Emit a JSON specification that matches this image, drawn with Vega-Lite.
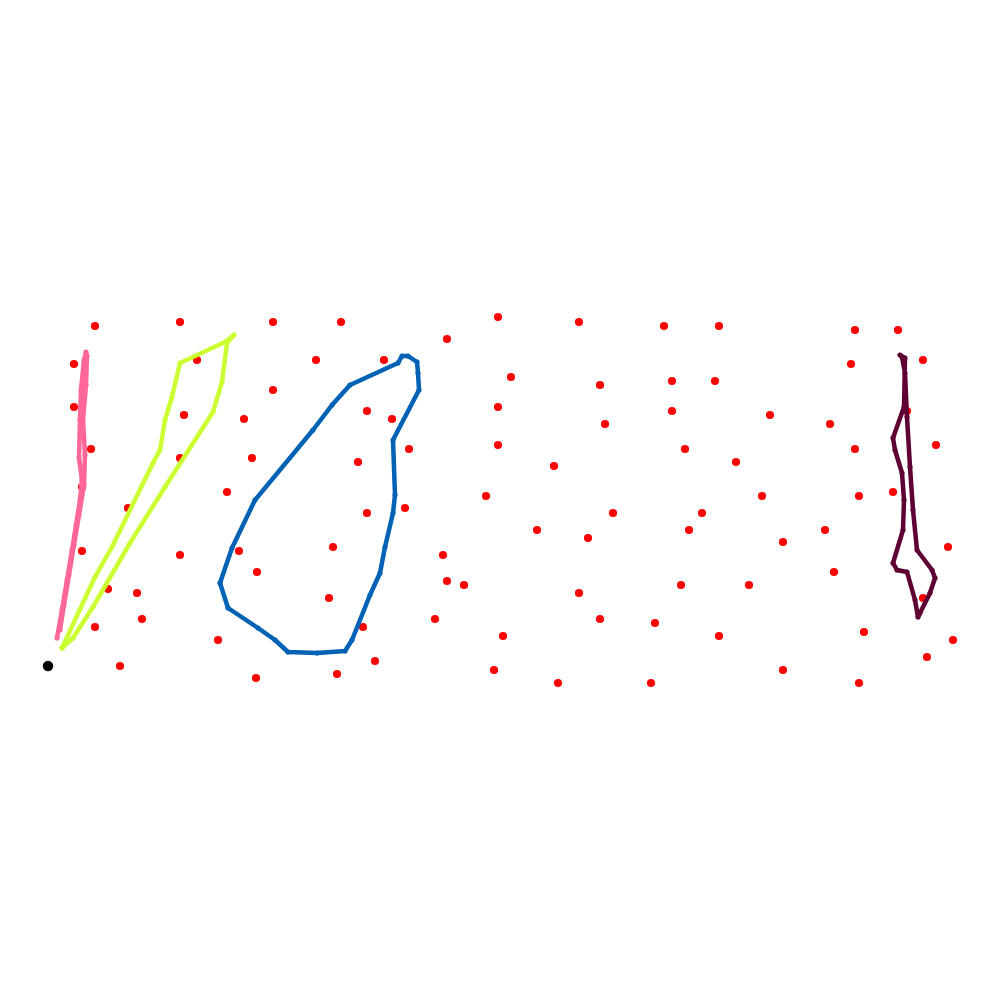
{
  "$schema": "https://vega.github.io/schema/vega-lite/v6.json",
  "width": 1000,
  "height": 1000,
  "padding": 0,
  "autosize": {"type": "fit", "contains": "padding"},
  "config": {"view": {"stroke": null}},
  "datasets": {
    "customers": [
      {"x": 95, "y": 326}, {"x": 180, "y": 322}, {"x": 273, "y": 322}, {"x": 341, "y": 322},
      {"x": 74, "y": 364}, {"x": 197, "y": 360}, {"x": 316, "y": 360}, {"x": 384, "y": 360},
      {"x": 74, "y": 407}, {"x": 184, "y": 415}, {"x": 273, "y": 390}, {"x": 244, "y": 419},
      {"x": 367, "y": 411}, {"x": 392, "y": 419}, {"x": 91, "y": 449}, {"x": 180, "y": 458},
      {"x": 252, "y": 458}, {"x": 358, "y": 462}, {"x": 409, "y": 449}, {"x": 82, "y": 487},
      {"x": 227, "y": 492}, {"x": 128, "y": 508}, {"x": 367, "y": 513}, {"x": 405, "y": 508},
      {"x": 82, "y": 551}, {"x": 180, "y": 555}, {"x": 239, "y": 551}, {"x": 333, "y": 547},
      {"x": 257, "y": 572}, {"x": 108, "y": 589}, {"x": 137, "y": 593}, {"x": 329, "y": 598},
      {"x": 95, "y": 627}, {"x": 142, "y": 619}, {"x": 218, "y": 640}, {"x": 363, "y": 627},
      {"x": 120, "y": 666}, {"x": 256, "y": 678}, {"x": 337, "y": 674}, {"x": 375, "y": 661},
      {"x": 498, "y": 317}, {"x": 579, "y": 322}, {"x": 664, "y": 326}, {"x": 719, "y": 326},
      {"x": 447, "y": 339}, {"x": 511, "y": 377}, {"x": 600, "y": 385}, {"x": 672, "y": 381},
      {"x": 715, "y": 381}, {"x": 498, "y": 407}, {"x": 672, "y": 411}, {"x": 605, "y": 424},
      {"x": 498, "y": 445}, {"x": 554, "y": 466}, {"x": 685, "y": 449}, {"x": 736, "y": 462},
      {"x": 486, "y": 496}, {"x": 613, "y": 513}, {"x": 702, "y": 513}, {"x": 762, "y": 496},
      {"x": 537, "y": 530}, {"x": 588, "y": 538}, {"x": 689, "y": 530}, {"x": 783, "y": 542},
      {"x": 443, "y": 555}, {"x": 447, "y": 581}, {"x": 464, "y": 585}, {"x": 579, "y": 593},
      {"x": 681, "y": 585}, {"x": 749, "y": 585}, {"x": 435, "y": 619}, {"x": 600, "y": 619},
      {"x": 655, "y": 623}, {"x": 503, "y": 636}, {"x": 719, "y": 636}, {"x": 494, "y": 670},
      {"x": 558, "y": 683}, {"x": 651, "y": 683}, {"x": 783, "y": 670}, {"x": 855, "y": 330},
      {"x": 898, "y": 330}, {"x": 923, "y": 360}, {"x": 851, "y": 364}, {"x": 770, "y": 415},
      {"x": 830, "y": 424}, {"x": 907, "y": 411}, {"x": 936, "y": 445}, {"x": 855, "y": 449},
      {"x": 859, "y": 496}, {"x": 893, "y": 492}, {"x": 825, "y": 530}, {"x": 948, "y": 547},
      {"x": 834, "y": 572}, {"x": 923, "y": 598}, {"x": 864, "y": 632}, {"x": 953, "y": 640},
      {"x": 927, "y": 657}, {"x": 859, "y": 683}
    ],
    "depot": [{"x": 48, "y": 666}],
    "routes": [
      {"route": "A", "order": 1, "x": 57, "y": 638}, {"route": "A", "order": 2, "x": 62, "y": 610},
      {"route": "A", "order": 3, "x": 67, "y": 580}, {"route": "A", "order": 4, "x": 72, "y": 550},
      {"route": "A", "order": 5, "x": 76, "y": 525}, {"route": "A", "order": 6, "x": 80, "y": 500},
      {"route": "A", "order": 7, "x": 82, "y": 480}, {"route": "A", "order": 8, "x": 79, "y": 458},
      {"route": "A", "order": 9, "x": 80, "y": 420}, {"route": "A", "order": 10, "x": 81, "y": 390},
      {"route": "A", "order": 11, "x": 84, "y": 360}, {"route": "A", "order": 12, "x": 86, "y": 352},
      {"route": "A", "order": 13, "x": 87, "y": 356}, {"route": "A", "order": 14, "x": 86, "y": 385},
      {"route": "A", "order": 15, "x": 83, "y": 420}, {"route": "A", "order": 16, "x": 85, "y": 455},
      {"route": "A", "order": 17, "x": 84, "y": 485}, {"route": "A", "order": 18, "x": 79, "y": 515},
      {"route": "A", "order": 19, "x": 74, "y": 545}, {"route": "A", "order": 20, "x": 69, "y": 575},
      {"route": "A", "order": 21, "x": 64, "y": 605}, {"route": "A", "order": 22, "x": 60, "y": 630},
      {"route": "B", "order": 1, "x": 62, "y": 648}, {"route": "B", "order": 2, "x": 95, "y": 577},
      {"route": "B", "order": 3, "x": 112, "y": 547}, {"route": "B", "order": 4, "x": 153, "y": 463},
      {"route": "B", "order": 5, "x": 160, "y": 450}, {"route": "B", "order": 6, "x": 165, "y": 420},
      {"route": "B", "order": 7, "x": 172, "y": 397}, {"route": "B", "order": 8, "x": 180, "y": 363},
      {"route": "B", "order": 9, "x": 225, "y": 342}, {"route": "B", "order": 10, "x": 234, "y": 335},
      {"route": "B", "order": 11, "x": 227, "y": 343}, {"route": "B", "order": 12, "x": 222, "y": 382},
      {"route": "B", "order": 13, "x": 213, "y": 412}, {"route": "B", "order": 14, "x": 165, "y": 487},
      {"route": "B", "order": 15, "x": 130, "y": 543}, {"route": "B", "order": 16, "x": 93, "y": 607},
      {"route": "B", "order": 17, "x": 73, "y": 638}, {"route": "B", "order": 18, "x": 62, "y": 648},
      {"route": "C", "order": 1, "x": 220, "y": 583}, {"route": "C", "order": 2, "x": 228, "y": 608},
      {"route": "C", "order": 3, "x": 258, "y": 628}, {"route": "C", "order": 4, "x": 275, "y": 640},
      {"route": "C", "order": 5, "x": 288, "y": 652}, {"route": "C", "order": 6, "x": 317, "y": 653},
      {"route": "C", "order": 7, "x": 345, "y": 651}, {"route": "C", "order": 8, "x": 352, "y": 640},
      {"route": "C", "order": 9, "x": 370, "y": 595}, {"route": "C", "order": 10, "x": 380, "y": 573},
      {"route": "C", "order": 11, "x": 385, "y": 547}, {"route": "C", "order": 12, "x": 393, "y": 513},
      {"route": "C", "order": 13, "x": 395, "y": 495}, {"route": "C", "order": 14, "x": 393, "y": 440},
      {"route": "C", "order": 15, "x": 419, "y": 390}, {"route": "C", "order": 16, "x": 418, "y": 373},
      {"route": "C", "order": 17, "x": 417, "y": 362}, {"route": "C", "order": 18, "x": 408, "y": 356},
      {"route": "C", "order": 19, "x": 402, "y": 356}, {"route": "C", "order": 20, "x": 398, "y": 363},
      {"route": "C", "order": 21, "x": 350, "y": 385}, {"route": "C", "order": 22, "x": 332, "y": 405},
      {"route": "C", "order": 23, "x": 313, "y": 430}, {"route": "C", "order": 24, "x": 255, "y": 500},
      {"route": "C", "order": 25, "x": 232, "y": 548}, {"route": "C", "order": 26, "x": 220, "y": 583},
      {"route": "D", "order": 1, "x": 900, "y": 355}, {"route": "D", "order": 2, "x": 905, "y": 358},
      {"route": "D", "order": 3, "x": 904, "y": 407}, {"route": "D", "order": 4, "x": 893, "y": 438},
      {"route": "D", "order": 5, "x": 895, "y": 450}, {"route": "D", "order": 6, "x": 902, "y": 473},
      {"route": "D", "order": 7, "x": 904, "y": 500}, {"route": "D", "order": 8, "x": 903, "y": 530},
      {"route": "D", "order": 9, "x": 893, "y": 563}, {"route": "D", "order": 10, "x": 897, "y": 570},
      {"route": "D", "order": 11, "x": 907, "y": 572}, {"route": "D", "order": 12, "x": 915, "y": 600},
      {"route": "D", "order": 13, "x": 918, "y": 617}, {"route": "D", "order": 14, "x": 920, "y": 613},
      {"route": "D", "order": 15, "x": 930, "y": 593}, {"route": "D", "order": 16, "x": 935, "y": 578},
      {"route": "D", "order": 17, "x": 932, "y": 570}, {"route": "D", "order": 18, "x": 917, "y": 550},
      {"route": "D", "order": 19, "x": 913, "y": 510}, {"route": "D", "order": 20, "x": 910, "y": 467},
      {"route": "D", "order": 21, "x": 907, "y": 417}, {"route": "D", "order": 22, "x": 905, "y": 373},
      {"route": "D", "order": 23, "x": 902, "y": 357}
    ]
  },
  "layer": [
    {
      "data": {"name": "customers"},
      "mark": {"type": "circle", "size": 66, "opacity": 1, "color": "#ff0000"},
      "encoding": {
        "x": {"field": "x", "type": "quantitative", "scale": {"domain": [0, 1000]}, "axis": null},
        "y": {"field": "y", "type": "quantitative", "scale": {"domain": [0, 1000], "reverse": true}, "axis": null}
      }
    },
    {
      "data": {"name": "routes"},
      "mark": {"type": "line", "strokeWidth": 4.5, "strokeJoin": "round", "strokeCap": "round", "point": {"size": 26, "filled": true, "opacity": 1}},
      "encoding": {
        "x": {"field": "x", "type": "quantitative", "scale": {"domain": [0, 1000]}, "axis": null},
        "y": {"field": "y", "type": "quantitative", "scale": {"domain": [0, 1000], "reverse": true}, "axis": null},
        "order": {"field": "order"},
        "color": {
          "field": "route",
          "type": "nominal",
          "legend": null,
          "scale": {"domain": ["A", "B", "C", "D"], "range": ["#ff6699", "#ccff33", "#0062b4", "#5e0033"]}
        }
      }
    },
    {
      "data": {"name": "depot"},
      "mark": {"type": "circle", "size": 110, "opacity": 1, "color": "#000000"},
      "encoding": {
        "x": {"field": "x", "type": "quantitative", "scale": {"domain": [0, 1000]}, "axis": null},
        "y": {"field": "y", "type": "quantitative", "scale": {"domain": [0, 1000], "reverse": true}, "axis": null}
      }
    }
  ]
}
